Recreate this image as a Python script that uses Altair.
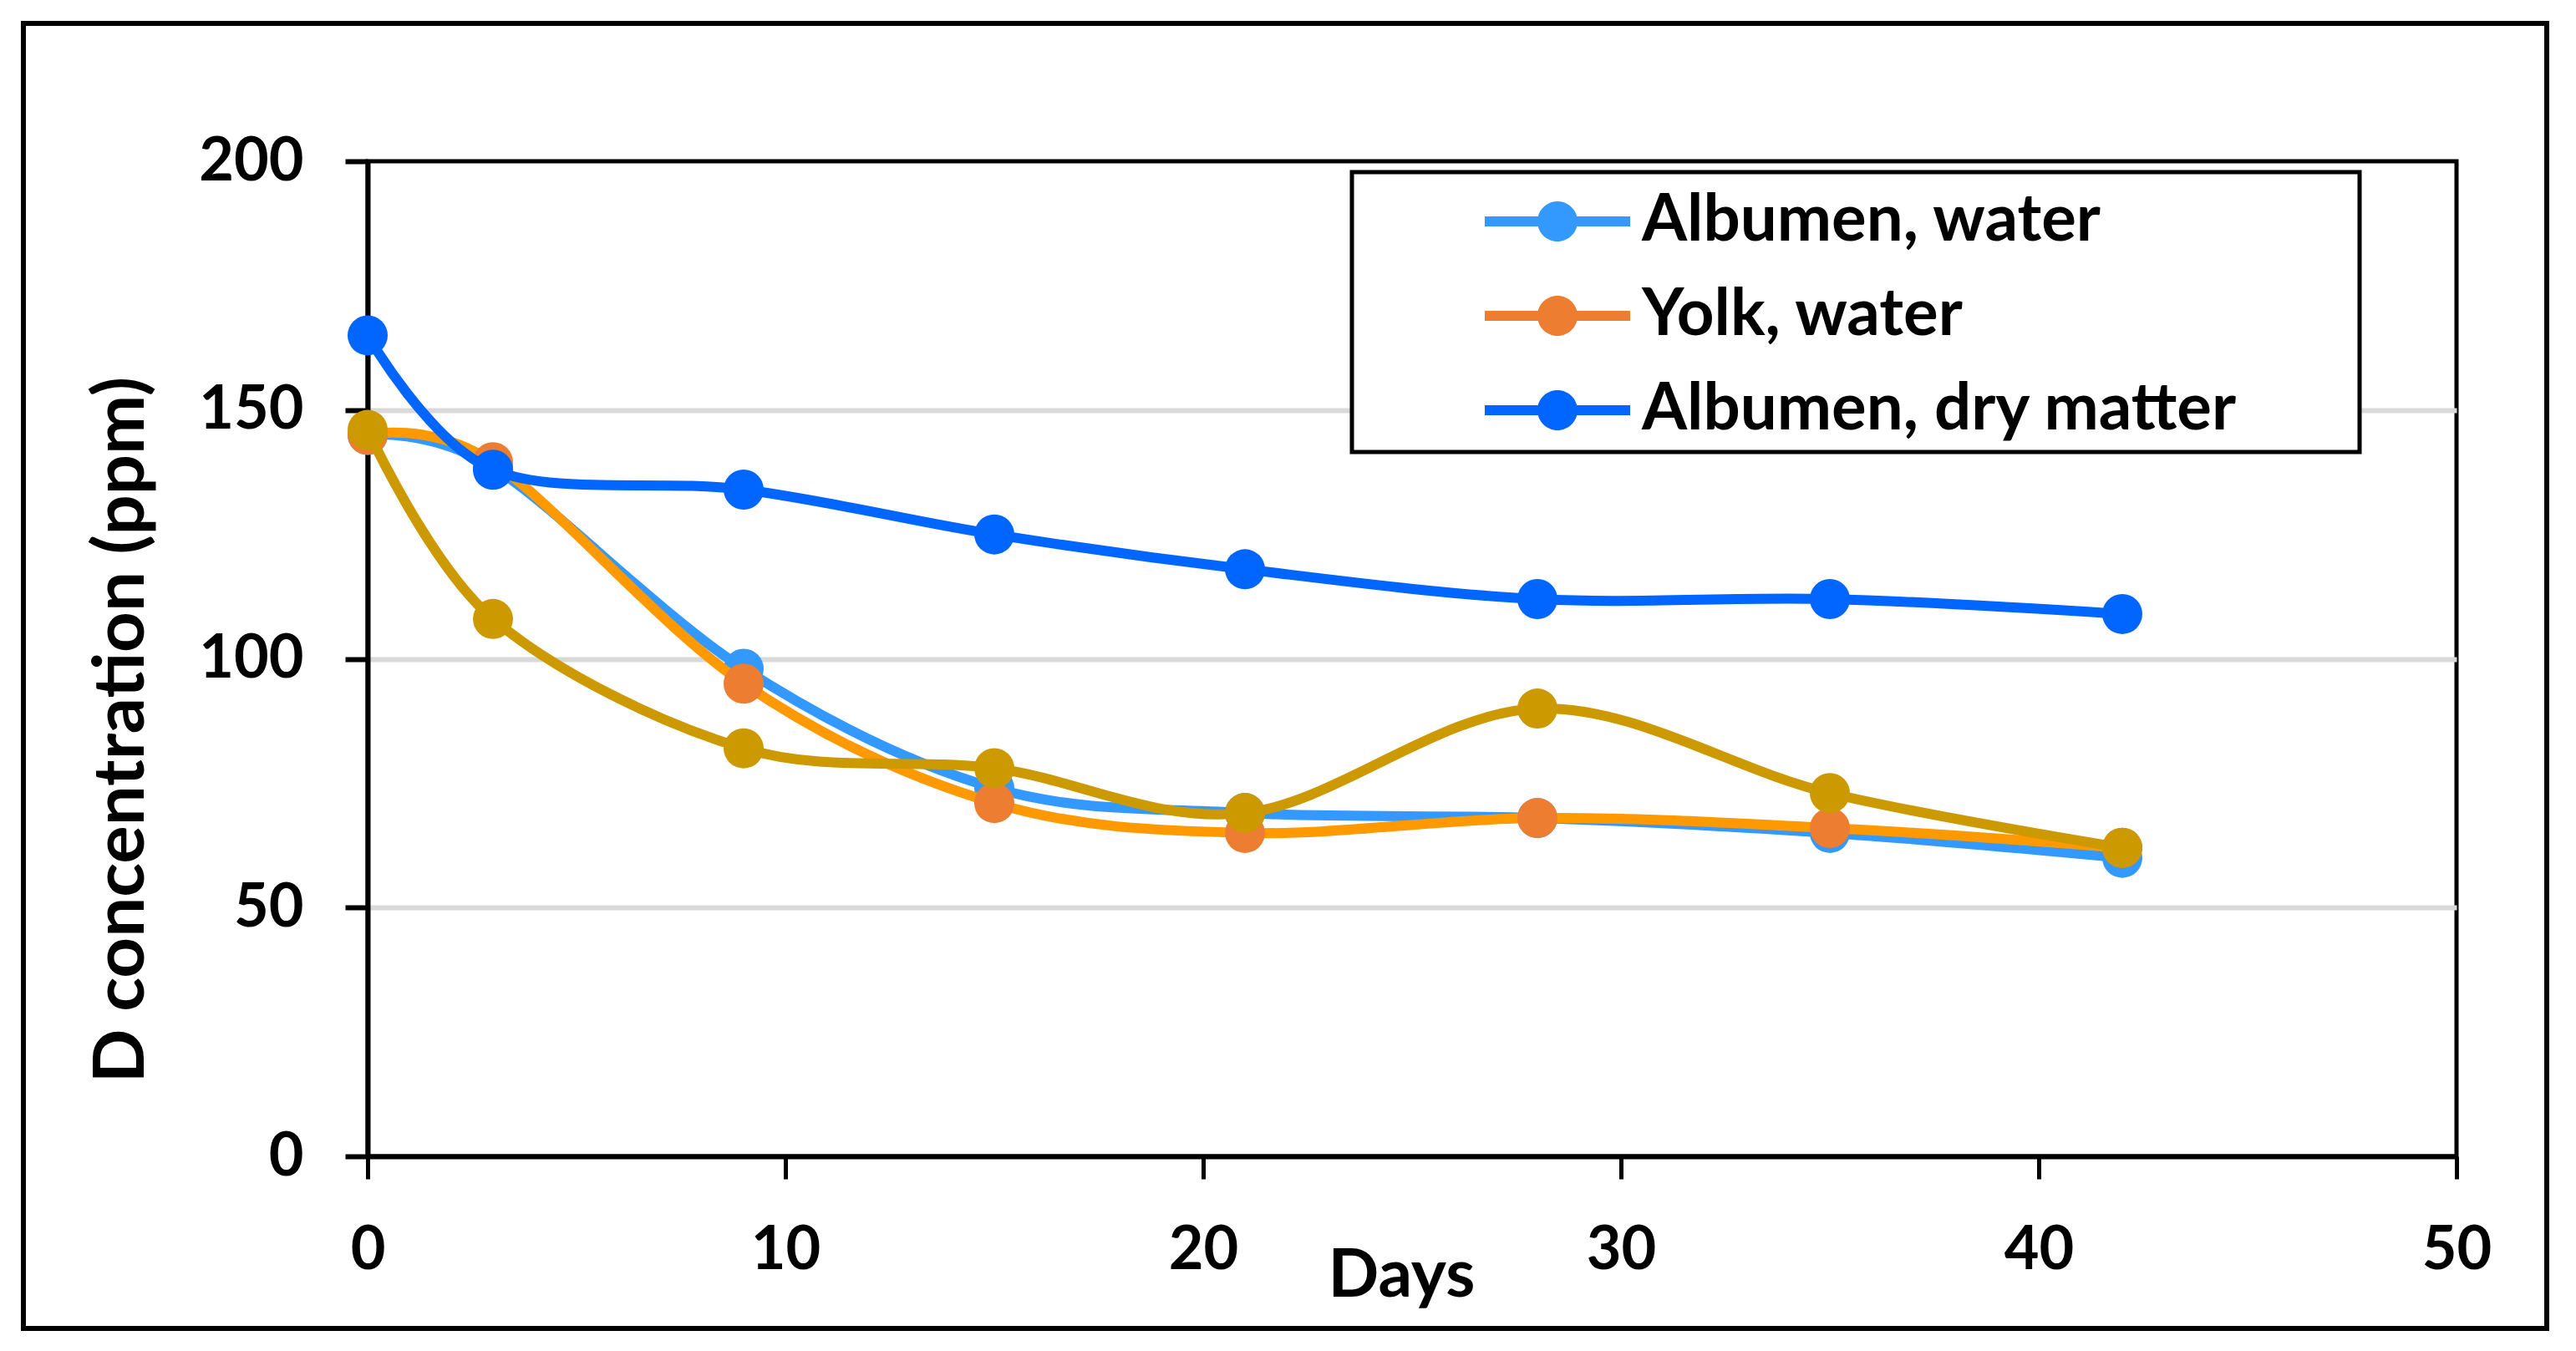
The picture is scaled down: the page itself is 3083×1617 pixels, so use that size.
import altair as alt
import pandas as pd

days = [0, 3, 9, 15, 21, 28, 35, 42]
series_names = ["Albumen, water", "Yolk, water", "Albumen, dry matter", "Yolk, dry matter"]
albumen_water = [145, 138.5, 98, 74, 69, 68, 65, 60]
yolk_water = [145, 139.5, 95, 71, 65, 68, 66, 62]
albumen_dry = [165, 138, 134, 125, 118, 112, 112, 109]
yolk_dry = [146, 108, 82, 78, 69, 90, 73, 62]
legend_names = series_names[:3]

line_colors = ["#3399FF", "#FF9900", "#0066FF", "#CC9900"]
marker_colors = ["#3399FF", "#ED7D31", "#0066FF", "#CC9900"]

x_ticks = [0, 10, 20, 30, 40, 50]
y_ticks = [0, 50, 100, 150, 200]

rows = []
for name, vals in zip(series_names, [albumen_water, yolk_water, albumen_dry, yolk_dry]):
    for d, v in zip(days, vals):
        rows.append({"Series": name, "Days": d, "Value": v})
df = pd.DataFrame(rows)

FONT = "Lato"

x_enc = alt.X(
    "Days:Q",
    scale=alt.Scale(domain=[0, 50], nice=False),
    axis=alt.Axis(
        values=x_ticks, title="Days", grid=False,
        domainColor="black", domainWidth=6,
        tickColor="black", tickWidth=5, tickSize=27,
        labelFont=FONT, labelFontWeight="bold", labelFontSize=72, labelColor="black",
        labelPadding=50, labelFlush=False, labelOverlap=False, labelBound=False,
        titleFont=FONT, titleFontWeight="bold", titleFontSize=80, titleColor="black",
        titleX=1237, titleY=104, titleBaseline="top", titleAlign="center",
    ),
)
y_enc = alt.Y(
    "Value:Q",
    scale=alt.Scale(domain=[0, 200], nice=False),
    axis=alt.Axis(
        values=y_ticks, title="D concentration (ppm)",
        grid=True, gridColor="#D9D9D9", gridWidth=6,
        gridOpacity={"condition": {"test": "datum.value == 0 || datum.value == 200", "value": 0}, "value": 1},
        domainColor="black", domainWidth=6,
        tickColor="black", tickWidth=6, tickSize=27,
        labelFont=FONT, labelFontWeight="bold", labelFontSize=72, labelColor="black",
        labelPadding=50,
        titleFont=FONT, titleFontWeight="bold", titleFontSize=85, titleColor="black",
        titleAngle=270, titleX=-269, titleY=680, titleBaseline="alphabetic", titleAlign="center",
    ),
)

base = alt.Chart(df)

symbol_path = (
    "M-1,0A1,1,0,1,1,1,0A1,1,0,1,1,-1,0Z"
    "M-3.625,-0.25L-0.9,-0.25L-0.9,0.25L-3.625,0.25Z"
    "M0.9,-0.25L3.625,-0.25L3.625,0.25L0.9,0.25Z"
)

one = pd.DataFrame({"k": [0]})
frame = alt.Chart(one).mark_rect(fillOpacity=0, stroke="black", strokeWidth=6).encode(
    x=alt.value(-412), x2=alt.value(2608), y=alt.value(-165), y2=alt.value(1397)
)
legend_box = alt.Chart(one).mark_rect(fill="white", stroke="black", strokeWidth=5).encode(
    x=alt.value(1178), x2=alt.value(2384), y=alt.value(13), y2=alt.value(348)
)

layers = [frame, legend_box]
for name, lc, mc in zip(series_names, line_colors, marker_colors):
    sub = base.transform_filter(alt.datum.Series == name)
    layers.append(sub.mark_line(interpolate="cardinal", strokeWidth=12, color=lc).encode(x=x_enc, y=y_enc))
    layers.append(
        sub.mark_point(filled=True, size=2304, opacity=1).encode(
            x=x_enc, y=y_enc,
            color=alt.Color(
                "Series:N",
                scale=alt.Scale(domain=series_names, range=marker_colors),
                legend=alt.Legend(
                    values=legend_names, title=None, orient="none",
                    legendX=1385, legendY=33, padding=0, zindex=5,
                    symbolType=symbol_path, symbolSize=2304, symbolStrokeWidth=0,
                    symbolOpacity=1,
                    labelFont=FONT, labelFontWeight="bold", labelFontSize=78, labelColor="black",
                    labelOffset=62, labelLimit=2000, rowPadding=35,
                ),
            ),
        )
    )

chart = alt.layer(*layers).properties(
    width=2500, height=1191,
    autosize=alt.AutoSizeParams(type="none"),
    padding={"left": 432, "top": 185, "right": 130, "bottom": 210},
    background="white",
).configure_view(stroke="black", strokeWidth=5)

chart.save("out.html", embed_options={"renderer": "svg", "actions": False})
